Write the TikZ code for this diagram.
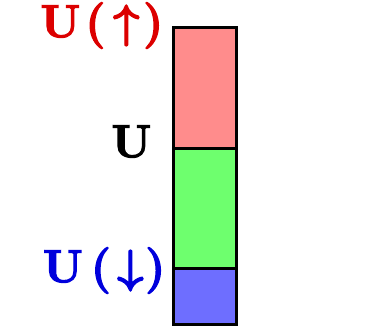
\documentclass[tikz,border=0pt]{standalone}
\definecolor{cellred}{RGB}{255,140,140}
\definecolor{cellgreen}{RGB}{110,255,110}
\definecolor{cellblue}{RGB}{110,110,255}
\definecolor{labred}{RGB}{220,0,0}
\definecolor{labblue}{RGB}{0,0,220}
\newcommand{\gl}[2]{\makebox[#1pt][c]{$#2$}}
\newcommand{\heavy}[1]{\special{pdf:literal 2 Tr 0.7 w}#1\special{pdf:literal 0 Tr}}
\begin{document}
\begin{tikzpicture}[x=1pt,y=-1pt,
  cell/.style={draw=black,line width=3pt},
  lab/.style={font=\Huge\boldmath,inner sep=0pt,anchor=base west,scale=1.85}]
\useasboundingbox (0,0) rectangle (378,327);
\draw[cell,fill=cellred] (173.5,27) rectangle (236.5,148);
\draw[cell,fill=cellgreen] (173.5,148) rectangle (236.5,268);
\draw[cell,fill=cellblue] (173.5,268) rectangle (236.5,324);
\node[lab,text=labred] (up) at (44,37) {\heavy{\gl{17.3}{\mathbf{U}}\gl{20.5}{(}\gl{13.0}{\uparrow}\gl{16.2}{)}}};
\node[lab,text=black] (mid) at (115,157) {\heavy{\gl{17.3}{\mathbf{U}}}};
\node[lab,text=labblue] (dn) at (46.5,282) {\heavy{\gl{17.3}{\mathbf{U}}\gl{23.8}{(}\gl{8.1}{\downarrow}\gl{18.9}{)}}};
\end{tikzpicture}
\end{document}
